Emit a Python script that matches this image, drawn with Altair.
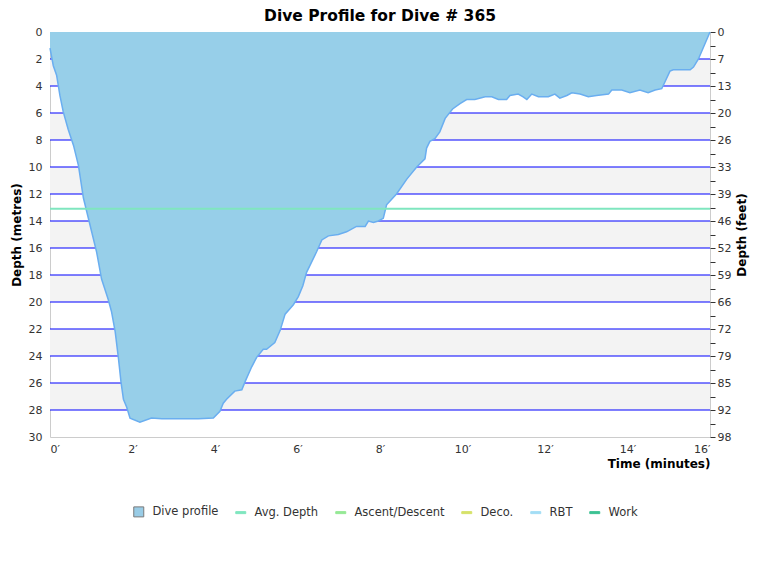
import altair as alt
import pandas as pd

# dive profile (minutes, metres)
TIME_MIN = [0.00, 0.08, 0.16, 0.24, 0.32, 0.44, 0.57, 0.69, 0.75, 0.81, 0.89, 1.01,
            1.13, 1.25, 1.41, 1.49, 1.58, 1.66, 1.72, 1.78, 1.86, 1.94, 2.18, 2.46,
            2.71, 3.31, 3.60, 3.96, 4.12, 4.20, 4.28, 4.48, 4.65, 4.73, 4.89, 5.01,
            5.17, 5.25, 5.45, 5.58, 5.70, 5.90, 6.02, 6.13, 6.22, 6.30, 6.46, 6.59,
            6.75, 6.99, 7.19, 7.43, 7.64, 7.72, 7.84, 7.96, 8.08, 8.16, 8.40, 8.65,
            8.89, 9.09, 9.13, 9.21, 9.33, 9.45, 9.58, 9.76, 9.94, 10.10, 10.30, 10.55,
            10.71, 10.87, 11.07, 11.15, 11.35, 11.47, 11.56, 11.68, 11.84, 12.08, 12.24,
            12.36, 12.53, 12.65, 12.85, 13.05, 13.25, 13.54, 13.62, 13.86, 14.06, 14.30,
            14.50, 14.67, 14.83, 15.03, 15.11, 15.52, 15.60, 15.72, 16.00]
DEPTH_M = [1.2, 2.5, 3.2, 4.7, 5.9, 7.2, 8.4, 9.9, 11.1, 12.3, 13.3, 14.8,
           16.3, 18.3, 19.8, 20.7, 22.2, 24.2, 25.9, 27.2, 27.8, 28.6, 28.9, 28.6,
           28.65, 28.65, 28.65, 28.6, 28.1, 27.5, 27.2, 26.6, 26.5, 25.9, 24.8, 24.1,
           23.5, 23.5, 23.0, 22.1, 20.9, 20.2, 19.6, 18.8, 17.8, 17.3, 16.3, 15.4,
           15.1, 15.0, 14.8, 14.4, 14.4, 14.0, 14.1, 14.0, 13.8, 12.8, 12.0, 10.9,
           10.0, 9.4, 8.6, 8.1, 7.9, 7.4, 6.4, 5.7, 5.3, 5.0, 5.0, 4.8,
           4.8, 5.0, 5.0, 4.7, 4.6, 4.8, 5.0, 4.6, 4.8, 4.8, 4.6,
           4.9, 4.7, 4.5, 4.6, 4.8, 4.7, 4.6, 4.3, 4.3, 4.5, 4.3,
           4.5, 4.3, 4.2, 2.9, 2.8, 2.8, 2.6, 2.0, 0.0]

AVG_DEPTH_M = [13.1]
GRID_DEPTHS = [2, 4, 6, 8, 10, 12, 14, 16, 18, 20, 22, 24, 26, 28]
BAND_TOP = [2, 6, 10, 14, 18, 22, 26]
BAND_BOTTOM = [4, 8, 12, 16, 20, 24, 28]
X_TICKS = [0, 2, 4, 6, 8, 10, 12, 14, 16]
METRE_TICKS = list(range(0, 31, 2))
FEET_TICKS = list(range(0, 31))
FEET_LABELS = ['0', '7', '13', '20', '26', '33', '39', '46', '52', '59', '66',
               '72', '79', '85', '92', '98']
LEGEND_ITEMS = ['Dive profile', 'Avg. Depth', 'Ascent/Descent', 'Deco.', 'RBT', 'Work']
LEGEND_STROKES = ['#7a7a7a', '#7fe6bf', '#95e895', '#d6e26a', '#a3ddf5', '#3cc293']
LEGEND_FILLS = ['#99cce6', '#7fe6bf', '#95e895', '#d6e26a', '#a3ddf5', '#3cc293']
BAR = 'M-1,-0.2H1V0.2H-1Z'
LEGEND_SHAPES = ['square', BAR, BAR, BAR, BAR, BAR]

FONT = 'DejaVu Sans'

profile = pd.DataFrame({'time': TIME_MIN, 'depth': DEPTH_M})
bands = pd.DataFrame({'top': BAND_TOP, 'bottom': BAND_BOTTOM})
grid = pd.DataFrame({'depth': GRID_DEPTHS})
avg = pd.DataFrame({'depth': AVG_DEPTH_M})
legend_df = pd.DataFrame({'series': LEGEND_ITEMS})

y_scale = alt.Scale(domain=[0, 30], reverse=True, nice=False, zero=False)
x_scale = alt.Scale(domain=[0, 16], nice=False)

feet_expr = ("datum.value % 2 == 0 ? [" + ",".join(f"'{s}'" for s in FEET_LABELS)
             + "][datum.value / 2] : ''")

band_layer = alt.Chart(bands).mark_rect(color='#f3f3f3').encode(
    x=alt.value(0), x2=alt.value('width'),
    y=alt.Y('top:Q', scale=y_scale, axis=None),
    y2='bottom:Q')

grid_layer = alt.Chart(grid).mark_rule(color='#0000ff', strokeWidth=1.2).encode(
    y=alt.Y('depth:Q', scale=y_scale,
            axis=alt.Axis(orient='right', values=FEET_TICKS, labelExpr=feet_expr,
                          title='Depth (feet)', titleAngle=270, titleBaseline='top',
                          titlePadding=6, grid=False, domain=False, tickSize=5,
                          tickColor='#333333', labelPadding=2)))

area_layer = alt.Chart(profile).mark_area(
    color='#97cfe9', line={'color': '#6aaef0', 'strokeWidth': 1.5}, opacity=1).encode(
    x=alt.X('time:Q', scale=x_scale,
            axis=alt.Axis(values=X_TICKS, labelExpr="datum.value + '′'",
                          title='Time (minutes)', titleAnchor='end', ticks=False,
                          grid=False, domain=False, labelPadding=6, titlePadding=4)),
    y=alt.Y('depth:Q', scale=y_scale,
            axis=alt.Axis(orient='left', values=METRE_TICKS, title='Depth (metres)',
                          ticks=False, grid=False, domain=False, labelPadding=8,
                          titlePadding=5)))

avg_layer = alt.Chart(avg).mark_rule(color='#7fe6bf', strokeWidth=2).encode(
    y=alt.Y('depth:Q', scale=y_scale, axis=None))

series_legend = alt.Legend(
    title=None, orient='none', direction='horizontal', legendX=83, legendY=474,
    labelFont=FONT, labelFontSize=11.5, labelColor='#333333', symbolSize=100,
    columnPadding=14, labelOffset=8, symbolOpacity=1, symbolStrokeWidth=1)

legend_layer = alt.Chart(legend_df).mark_point(opacity=0, filled=True).encode(
    x=alt.value(0), y=alt.value(0),
    stroke=alt.Stroke('series:N', scale=alt.Scale(domain=LEGEND_ITEMS, range=LEGEND_STROKES),
                      legend=series_legend),
    fill=alt.Fill('series:N', scale=alt.Scale(domain=LEGEND_ITEMS, range=LEGEND_FILLS),
                  legend=series_legend),
    shape=alt.Shape('series:N', scale=alt.Scale(domain=LEGEND_ITEMS, range=LEGEND_SHAPES),
                    legend=series_legend))

chart = (alt.layer(band_layer, grid_layer, area_layer, avg_layer, legend_layer)
         .resolve_axis(y='independent')
         .properties(width=660, height=405,
                     title=alt.Title('Dive Profile for Dive # 365', fontSize=15.5,
                                     font=FONT, fontWeight='bold', color='#000000',
                                     frame='group', offset=2),
                     autosize=alt.AutoSizeParams(type='none'),
                     padding={'left': 42, 'top': 24, 'right': 42, 'bottom': 120})
         .configure_view(stroke='#cccccc')
         .configure_axis(labelFont=FONT, labelFontSize=11, labelColor='#333333',
                         titleFont=FONT, titleFontSize=12, titleFontWeight='bold',
                         titleColor='#000000'))

chart.save('out.html', embed_options={'renderer': 'svg', 'actions': False})
